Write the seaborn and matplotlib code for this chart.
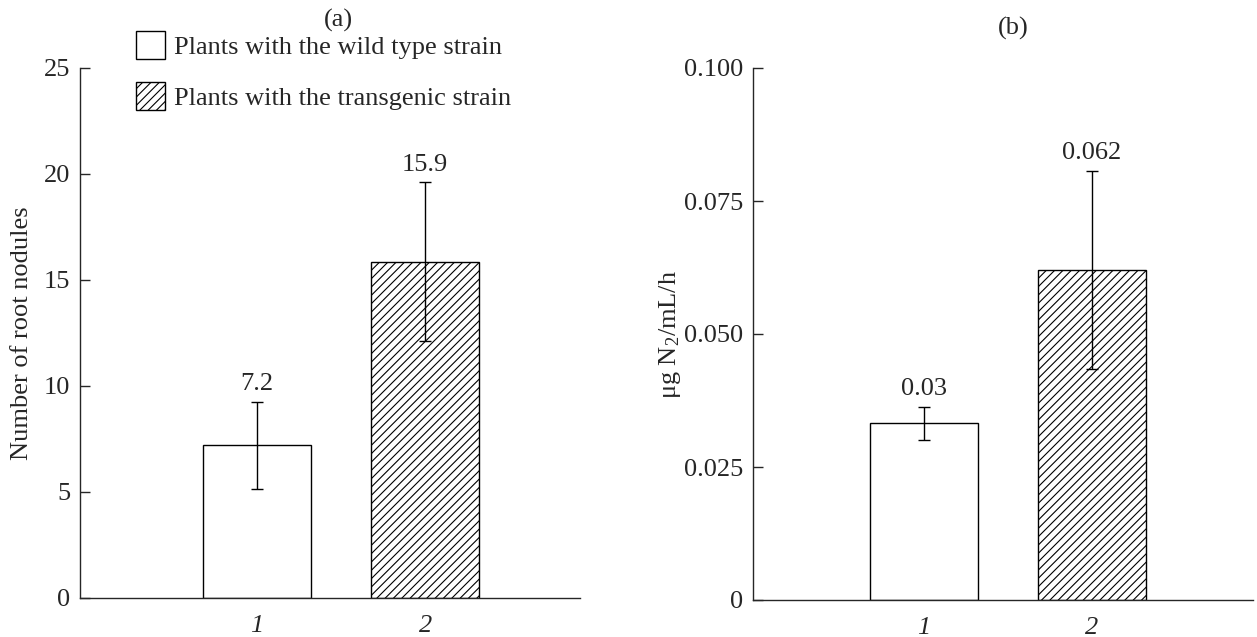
import matplotlib
matplotlib.use("Agg")
import matplotlib.pyplot as plt
import seaborn as sns
from matplotlib.patches import Patch

groups = ["1", "2"]
legend_labels = ["Plants with the wild type strain", "Plants with the transgenic strain"]
hatches = ["", "////"]

nodules = [7.2, 15.85]
nodules_err = [2.05, 3.75]
nodules_text = ["7.2", "15.9"]

fixation = [0.0332, 0.062]
fixation_err = [0.0031, 0.0186]
fixation_text = ["0.03", "0.062"]

sns.set_style("ticks")
plt.rcParams["font.family"] = ["Liberation Serif", "DejaVu Serif"]
plt.rcParams["mathtext.fontset"] = "custom"
plt.rcParams["mathtext.rm"] = "Liberation Serif"
plt.rcParams["mathtext.it"] = "Liberation Serif:italic"
plt.rcParams["hatch.linewidth"] = 0.8
fs = 19

W, H = 1257, 637
fig = plt.figure(figsize=(W / 100, H / 100), dpi=100)
ax1 = fig.add_axes([80 / W, 1 - 598 / H, 500 / W, 530 / H])
ax2 = fig.add_axes([753 / W, 1 - 600 / H, 500 / W, 532 / H])


def panel(ax, vals, errs, texts, ymax, yticks, ylabel, xlim, label_x):
    sns.barplot(x=groups, y=vals, hue=groups, palette=["white", "white"],
                edgecolor="black", linewidth=1.0, width=0.64, legend=False, ax=ax)
    for bar, h in zip(ax.patches, hatches):
        bar.set_hatch(h)
    ax.errorbar(x=list(range(len(groups))), y=vals, yerr=errs, fmt="none",
                ecolor="black", elinewidth=1.0, capsize=4, capthick=1.0)
    for i, (v, e, t) in enumerate(zip(vals, errs, texts)):
        ax.annotate(t, (i, v + e), xytext=(0, 5), textcoords="offset points",
                    ha="center", va="bottom", fontsize=fs)
    ax.set_xlim(*xlim)
    ax.set_ylim(0, ymax)
    ax.set_yticks(yticks)
    ax.tick_params(axis="y", direction="in", length=7, width=1, labelsize=fs, pad=7)
    ax.tick_params(axis="x", length=0, labelsize=fs, pad=12)
    for lab in ax.get_xticklabels():
        lab.set_fontstyle("italic")
    ax.set_ylabel(ylabel, fontsize=fs)
    ax.yaxis.label.set_verticalalignment("center")
    ax.yaxis.set_label_coords(label_x, 0.5)
    ax.set_xlabel("")
    sns.despine(ax=ax)
    for s in ["left", "bottom"]:
        ax.spines[s].set_linewidth(1.0)


panel(ax1, nodules, nodules_err, nodules_text, 25, [0, 5, 10, 15, 20, 25],
      "Number of root nodules", (-1.05, 1.92), (22 - 80) / 500)
panel(ax2, fixation, fixation_err, fixation_text, 0.1, [0, 0.025, 0.05, 0.075, 0.1],
      "μg N$_2$/mL/h", (-1.02, 1.96), (670 - 753) / 500)
ax2.set_yticklabels(["0", "0.025", "0.050", "0.075", "0.100"])

fig.text(338 / W, 1 - 20 / H, "(a)", ha="center", va="center", fontsize=fs)
fig.text(1013 / W, 1 - 28 / H, "(b)", ha="center", va="center", fontsize=fs)

handles = [Patch(facecolor="white", edgecolor="black", hatch=h, linewidth=1.0) for h in hatches]
fig.legend(handles, legend_labels, loc="upper left", bbox_to_anchor=(136 / W, 1 - 31 / H),
           frameon=False, fontsize=fs, handlelength=1.1, handleheight=1.25,
           handletextpad=0.35, labelspacing=0.88, borderpad=0, borderaxespad=0)

fig.savefig("out.png", dpi=100)
